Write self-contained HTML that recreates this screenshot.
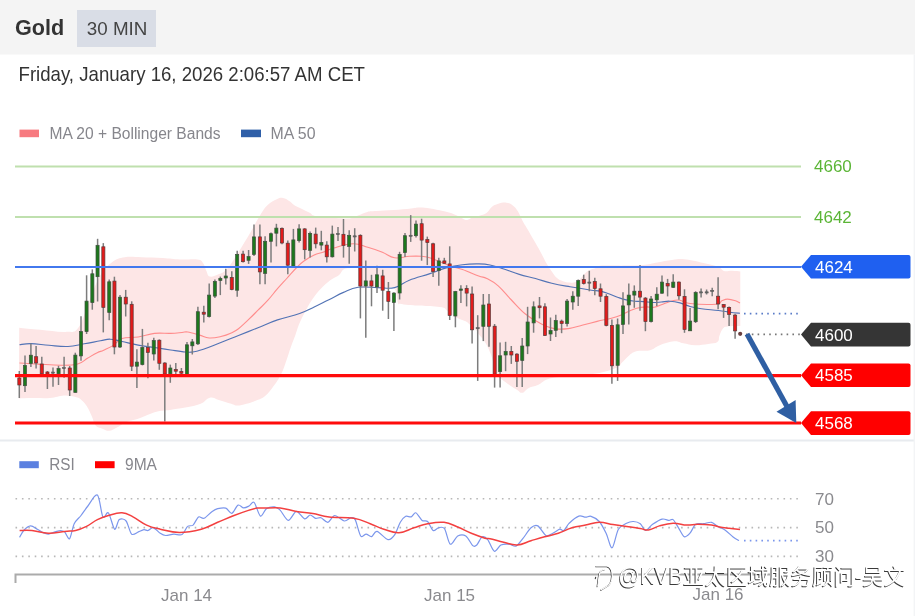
<!DOCTYPE html>
<html><head><meta charset="utf-8"><title>Gold 30 MIN</title>
<style>
html,body{margin:0;padding:0;background:#fff;}
body{width:915px;height:616px;overflow:hidden;position:relative;font-family:"Liberation Sans",Arial,sans-serif;}
svg{position:absolute;left:0;top:0;}
.w{stroke:#7c7c7c;stroke-width:1.5;}
.r{fill:#e31b1b;stroke:#5a3a3a;stroke-width:0.7;}
.g{fill:#1d781d;stroke:#3f4f3f;stroke-width:0.7;}
.d{fill:#666;stroke:#555;stroke-width:0.5;}
.lbl{font-family:"Liberation Sans",Arial,sans-serif;font-size:17px;}
.ax{font-family:"Liberation Sans",Arial,sans-serif;font-size:17px;fill:#8a8a8e;}
.lg{font-family:"Liberation Sans",Arial,sans-serif;font-size:16px;fill:#86868c;}
</style></head><body>
<svg width="915" height="616" viewBox="0 0 915 616">
<rect x="0" y="0" width="915" height="54.5" fill="#f4f4f4"/>
<rect x="77" y="10" width="79" height="37" fill="#d9dde6"/>
<text x="15" y="35.3" font-family="Liberation Sans, Arial, sans-serif" font-weight="bold" font-size="21.6" fill="#333">Gold</text>
<text x="86.8" y="34.7" font-family="Liberation Sans, Arial, sans-serif" font-size="18.8" fill="#444">30 MIN</text>
<text x="0" y="0" transform="translate(18.5,81.4) scale(1,1.09)" font-family="Liberation Sans, Arial, sans-serif" font-size="18" fill="#333" textLength="346.5" lengthAdjust="spacingAndGlyphs">Friday, January 16, 2026 2:06:57 AM CET</text>
<rect x="19.5" y="129.6" width="19.5" height="7.6" fill="#f77a80"/>
<text x="49.5" y="138.6" class="lg" textLength="171" lengthAdjust="spacingAndGlyphs">MA 20 + Bollinger Bands</text>
<rect x="241" y="129.6" width="20" height="7.6" fill="#2f5fa8"/>
<text x="270.5" y="138.6" class="lg" textLength="45" lengthAdjust="spacingAndGlyphs">MA 50</text>
<!-- band -->
<path d="M19.2,327.7 C23.4,328.1 31.0,329.0 40.3,329.8 C49.6,330.6 58.0,332.3 65.6,331.9 C73.2,331.5 73.7,333.6 78.3,327.7 C82.9,321.8 84.6,312.5 88.8,302.4 C93.0,292.3 94.8,285.0 99.4,277.0 C104.0,269.0 106.9,266.3 112.0,262.3 C117.1,258.3 118.8,258.2 124.7,257.2 C130.6,256.2 134.0,257.0 141.6,257.2 C149.2,257.4 155.0,257.5 162.7,258.0 C170.4,258.5 173.0,259.2 180.0,259.5 C187.0,259.8 192.9,258.8 197.5,259.5 C202.1,260.2 201.2,260.7 203.0,263.0 C204.8,265.3 205.0,268.3 206.4,271.0 C207.8,273.7 207.3,276.0 209.8,276.6 C212.3,277.2 215.6,275.6 219.0,274.1 C222.4,272.6 223.3,272.9 226.8,269.2 C230.3,265.5 233.4,260.3 236.5,255.6 C239.6,250.9 239.3,250.9 242.4,245.8 C245.5,240.7 248.1,236.4 251.8,230.0 C255.5,223.6 257.7,219.0 260.9,214.0 C264.1,209.0 264.5,207.9 267.7,205.0 C270.9,202.1 273.7,200.7 276.8,199.3 C279.9,197.9 280.4,197.6 283.0,198.0 C285.6,198.4 287.8,200.1 290.0,201.5 C292.2,202.9 291.8,203.5 294.0,204.9 C296.2,206.3 297.9,206.8 301.0,208.4 C304.1,210.0 306.9,211.2 309.7,212.7 C312.5,214.2 310.9,214.9 315.0,215.9 C319.1,216.9 324.0,217.0 330.0,217.5 C336.0,218.0 340.6,218.4 345.0,218.5 C349.4,218.6 349.3,218.6 352.0,218.0 C354.7,217.4 355.6,216.5 358.7,215.3 C361.8,214.1 363.9,212.8 367.4,211.9 C370.9,211.0 371.0,211.4 376.2,211.0 C381.4,210.6 386.6,210.6 393.6,210.1 C400.6,209.6 405.8,208.9 411.1,208.4 C416.4,207.9 416.1,207.5 419.9,207.5 C423.7,207.5 425.7,207.7 430.3,208.4 C434.9,209.1 438.2,209.9 443.0,211.1 C447.8,212.3 450.5,212.9 454.4,214.4 C458.3,215.9 459.9,217.3 462.5,218.4 C465.1,219.5 465.4,220.2 467.3,220.0 C469.2,219.8 469.9,218.4 472.2,217.6 C474.5,216.8 475.8,217.0 478.7,216.0 C481.6,215.0 484.2,214.5 486.8,212.7 C489.4,210.9 489.4,208.8 491.7,207.0 C494.0,205.2 495.3,204.7 498.2,203.8 C501.1,202.9 503.4,202.4 506.3,202.7 C509.2,203.0 510.5,203.7 512.8,205.4 C515.1,207.1 515.8,208.0 517.7,211.1 C519.6,214.2 520.6,217.2 522.5,220.8 C524.4,224.4 525.1,225.1 527.4,229.0 C529.7,232.9 531.3,235.8 533.9,240.3 C536.5,244.8 537.9,247.1 540.4,251.7 C542.9,256.3 544.3,259.6 546.6,263.5 C548.9,267.4 549.7,268.5 551.8,271.4 C553.9,274.3 554.8,276.0 557.0,278.0 C559.2,280.0 560.5,280.3 563.0,281.2 C565.5,282.1 567.1,282.3 569.5,282.5 C571.9,282.7 572.9,283.0 575.0,282.3 C577.1,281.6 577.8,281.0 580.0,279.0 C582.2,277.0 583.7,274.4 585.9,272.5 C588.1,270.6 589.0,270.4 591.0,269.5 C593.0,268.6 593.9,268.8 595.7,268.1 C597.5,267.4 596.8,266.3 600.0,265.8 C603.2,265.3 606.6,265.6 611.9,265.6 C617.2,265.6 620.2,265.7 626.4,265.6 C632.6,265.5 636.8,265.6 643.0,265.0 C649.2,264.4 651.7,263.4 657.5,262.4 C663.3,261.4 666.6,260.6 672.0,260.0 C677.4,259.4 678.7,258.8 684.5,259.3 C690.3,259.8 694.4,260.9 701.0,262.4 C707.6,263.9 713.1,264.9 717.7,266.6 C722.3,268.3 721.0,270.2 723.9,271.0 C726.8,271.8 728.9,270.6 732.2,270.7 C735.5,270.8 738.7,271.3 740.3,271.5 L740.3,326.0 C737.7,326.1 731.0,325.9 727.5,326.4 C724.0,326.9 724.6,326.8 723.0,328.6 C721.4,330.4 720.6,332.8 719.5,335.5 C718.4,338.2 719.7,340.3 717.4,342.0 C715.1,343.7 712.7,343.3 708.2,343.9 C703.7,344.5 700.1,345.3 695.1,345.2 C690.1,345.1 687.5,344.1 683.3,343.3 C679.1,342.5 678.8,340.9 674.1,341.3 C669.4,341.7 664.5,343.4 659.7,345.2 C654.9,347.0 654.4,349.1 650.0,350.3 C645.6,351.5 641.6,350.1 637.5,351.0 C633.4,351.9 632.8,352.5 629.7,354.9 C626.6,357.3 624.2,360.3 621.8,362.8 C619.4,365.3 621.3,365.4 617.6,367.2 C613.9,369.0 609.3,370.5 603.4,372.0 C597.5,373.5 594.8,373.6 588.0,374.5 C581.2,375.4 577.0,375.8 569.3,376.6 C561.6,377.4 556.0,376.8 549.7,378.5 C543.4,380.2 542.0,383.2 537.9,385.1 C533.8,387.0 532.1,386.4 529.0,387.9 C525.9,389.4 524.6,392.4 522.2,392.8 C519.8,393.2 519.8,391.5 517.2,389.9 C514.6,388.3 512.5,387.2 509.4,385.0 C506.3,382.8 504.3,381.4 501.5,379.0 C498.7,376.6 497.3,376.6 495.6,373.1 C493.9,369.6 494.3,365.7 493.1,361.4 C491.9,357.1 491.4,355.6 489.8,351.7 C488.2,347.8 487.2,345.6 484.9,342.0 C482.6,338.4 480.0,336.0 478.4,333.8 C476.8,331.6 478.6,332.8 476.9,331.0 C475.2,329.2 472.3,326.7 470.0,324.7 C467.7,322.7 468.2,322.6 465.6,321.2 C463.0,319.8 460.5,319.8 456.8,317.7 C453.1,315.6 449.8,312.7 447.2,310.7 C444.6,308.7 446.1,308.6 443.7,307.7 C441.3,306.8 438.5,306.8 435.0,306.4 C431.5,306.0 429.7,306.1 426.2,305.9 C422.7,305.7 421.0,305.7 417.5,305.5 C414.0,305.3 412.2,305.4 408.7,305.0 C405.2,304.6 402.1,304.1 400.0,303.7 C397.9,303.3 399.1,306.0 398.0,303.0 C396.9,300.0 397.1,291.5 394.5,288.5 C391.9,285.5 388.9,288.1 385.0,288.0 C381.1,287.9 378.8,288.1 375.0,288.0 C371.2,287.9 368.9,287.8 366.0,287.5 C363.1,287.2 362.0,290.3 360.4,286.5 C358.8,282.7 360.3,271.9 358.1,268.3 C355.9,264.7 352.2,268.1 349.3,268.3 C346.4,268.5 345.5,268.2 343.5,269.5 C341.5,270.8 341.4,273.0 339.1,274.9 C336.8,276.8 335.0,276.9 331.8,279.2 C328.6,281.5 326.5,283.0 323.0,286.5 C319.5,290.0 317.4,292.4 314.2,296.8 C311.0,301.2 309.8,303.2 306.9,308.5 C304.0,313.8 301.9,317.8 299.6,323.1 C297.3,328.4 297.2,330.2 295.4,335.0 C293.6,339.8 292.6,342.0 290.8,347.2 C289.0,352.4 288.0,355.8 286.2,361.0 C284.4,366.2 284.0,368.3 281.6,373.2 C279.2,378.1 277.4,380.9 274.0,385.5 C270.6,390.1 268.5,393.2 264.8,396.2 C261.1,399.2 259.3,399.2 255.6,400.7 C251.9,402.2 250.2,402.8 246.5,403.8 C242.8,404.8 240.4,405.6 237.3,405.6 C234.2,405.6 234.9,404.9 231.2,403.8 C227.5,402.7 223.2,401.2 218.9,400.0 C214.6,398.8 213.5,396.9 209.8,397.7 C206.1,398.5 205.5,401.8 200.6,403.8 C195.7,405.8 191.4,406.4 185.3,407.6 C179.2,408.8 175.4,409.2 170.0,409.9 C164.6,410.6 162.8,410.2 158.4,411.2 C154.0,412.2 152.1,413.1 147.9,414.7 C143.7,416.3 141.6,417.7 137.4,419.1 C133.2,420.5 131.1,420.0 126.9,421.7 C122.7,423.4 119.9,426.0 116.4,427.8 C112.9,429.6 112.2,430.6 109.4,430.8 C106.6,431.0 105.2,429.8 102.4,428.7 C99.6,427.6 97.5,427.6 95.4,425.2 C93.3,422.8 93.6,420.3 91.9,416.5 C90.2,412.7 88.8,409.3 86.7,406.0 C84.6,402.7 83.5,401.7 81.4,399.9 C79.3,398.1 79.7,398.1 76.2,397.2 C72.7,396.3 69.2,395.3 64.0,395.5 C58.8,395.7 56.3,397.6 50.0,398.1 C43.7,398.6 38.7,398.0 32.5,398.1 C26.3,398.2 21.6,398.4 18.9,398.5 Z" fill="#fde6e6"/>
<!-- level lines -->
<line x1="15" y1="166.6" x2="801" y2="166.6" stroke="#bfe0ae" stroke-width="2"/>
<line x1="15" y1="216.9" x2="801" y2="216.9" stroke="#bfe0ae" stroke-width="2"/>
<text x="814" y="171.6" class="lbl" fill="#5bb536">4660</text>
<text x="814" y="222.6" class="lbl" fill="#5bb536">4642</text>
<!-- MAs -->
<path d="M19.5,363.0 C23.1,363.2 29.5,363.7 37.7,364.1 C45.9,364.5 52.5,365.2 60.5,365.2 C68.5,365.2 72.3,365.4 77.7,364.0 C83.1,362.6 83.5,360.6 87.4,358.3 C91.3,356.0 93.9,354.3 97.2,352.7 C100.5,351.1 100.5,351.7 103.7,350.2 C106.9,348.7 109.7,347.7 113.4,345.4 C117.1,343.1 117.0,340.3 122.0,338.6 C127.0,336.9 131.7,338.0 138.2,337.0 C144.7,336.0 147.9,334.1 154.4,333.4 C160.9,332.7 165.1,333.6 170.6,333.4 C176.1,333.2 178.6,332.8 182.0,332.5 C185.4,332.2 184.3,331.5 187.8,332.0 C191.3,332.5 195.2,333.9 199.5,335.1 C203.8,336.3 204.9,337.7 209.2,338.0 C213.5,338.3 216.6,337.5 220.9,336.5 C225.2,335.5 227.2,334.8 230.7,333.2 C234.2,331.6 235.0,331.4 238.5,328.7 C242.0,326.0 244.3,323.6 248.2,319.9 C252.1,316.2 254.1,314.1 258.0,310.2 C261.9,306.3 263.8,304.7 267.7,300.4 C271.6,296.1 273.6,293.2 277.5,288.7 C281.4,284.2 283.4,282.2 287.2,278.0 C291.0,273.8 293.3,270.9 296.7,267.5 C300.1,264.1 300.5,263.5 304.0,261.0 C307.5,258.5 310.4,256.9 314.2,255.1 C318.0,253.3 319.1,253.6 323.0,252.2 C326.9,250.8 327.7,249.7 333.7,248.0 C339.7,246.3 346.4,243.8 353.2,243.7 C360.0,243.6 362.0,245.6 367.8,247.3 C373.6,249.0 377.0,250.1 382.4,252.2 C387.8,254.3 389.2,257.0 394.6,257.8 C400.0,258.6 403.9,256.6 409.3,256.3 C414.7,256.0 417.1,255.9 421.5,256.3 C425.9,256.7 425.3,256.3 431.2,258.3 C437.1,260.3 444.8,264.1 451.1,266.3 C457.4,268.5 457.0,267.6 462.5,269.5 C468.0,271.4 473.8,274.2 478.7,276.0 C483.6,277.8 482.9,276.5 486.8,278.5 C490.7,280.5 493.3,281.5 498.2,285.8 C503.1,290.1 505.9,294.3 511.4,300.0 C516.9,305.7 520.0,309.7 525.7,314.3 C531.4,318.9 534.3,320.3 540.0,323.2 C545.7,326.1 548.6,327.5 554.3,328.6 C560.0,329.7 562.9,329.3 568.6,328.6 C574.3,327.9 577.2,326.4 582.9,325.0 C588.6,323.6 591.4,322.8 597.1,321.4 C602.8,320.0 606.4,319.5 611.4,318.2 C616.4,316.9 618.4,316.1 621.9,314.7 C625.4,313.3 625.8,312.5 628.8,311.2 C631.8,309.9 633.2,309.1 636.7,308.2 C640.2,307.3 642.8,307.1 646.3,306.9 C649.8,306.7 650.9,307.8 654.2,307.3 C657.5,306.8 659.2,305.5 662.9,304.2 C666.6,302.9 669.2,301.5 672.6,300.7 C676.0,299.9 676.5,299.6 680.0,300.2 C683.5,300.8 682.8,302.7 690.0,303.5 C697.2,304.3 709.6,304.7 716.0,304.2 C722.4,303.7 719.5,301.8 721.8,300.8 C724.1,299.8 724.8,299.1 727.5,299.1 C730.2,299.1 733.0,300.0 735.5,300.8 C738.0,301.6 739.1,302.6 740.0,303.0" fill="none" stroke="#ff8c8c" stroke-width="1.1"/>
<path d="M19.5,344.8 C21.8,344.6 25.0,343.5 30.9,343.6 C36.8,343.7 41.6,344.7 49.0,345.3 C56.4,345.9 61.0,346.8 68.0,346.5 C75.0,346.2 77.7,344.9 84.2,343.8 C90.7,342.7 95.2,341.7 100.4,340.8 C105.6,339.9 105.8,339.1 110.1,339.2 C114.4,339.3 116.4,340.3 122.0,341.5 C127.6,342.7 131.7,343.9 138.2,345.1 C144.7,346.3 147.9,346.5 154.4,347.5 C160.9,348.5 165.1,349.2 170.6,350.0 C176.1,350.8 177.8,351.2 182.0,351.6 C186.2,352.0 187.4,352.6 191.7,352.1 C196.0,351.6 197.9,351.0 203.4,349.2 C208.9,347.4 212.0,346.0 219.0,343.3 C226.0,340.6 230.7,338.6 238.5,335.5 C246.3,332.4 250.2,330.8 258.0,327.7 C265.8,324.6 269.2,322.7 277.5,319.9 C285.8,317.1 292.3,316.1 299.6,313.5 C306.9,310.9 308.3,309.8 314.2,307.0 C320.1,304.2 323.0,302.6 328.9,299.7 C334.8,296.8 337.7,294.9 343.5,292.4 C349.3,289.9 351.3,288.3 358.1,287.3 C364.9,286.3 370.3,287.5 377.6,287.6 C384.9,287.7 388.3,289.1 394.6,287.6 C400.9,286.1 402.2,283.0 409.3,280.2 C416.4,277.4 422.6,276.1 430.0,273.6 C437.4,271.1 439.7,269.7 446.2,267.9 C452.7,266.1 456.0,265.5 462.5,264.7 C469.0,263.9 473.2,263.8 478.7,263.9 C484.2,264.0 485.1,264.0 490.0,265.0 C494.9,266.0 497.1,266.8 503.0,268.7 C508.9,270.6 512.8,272.4 519.3,274.4 C525.8,276.4 529.0,276.7 535.5,278.5 C542.0,280.3 544.9,281.6 551.8,283.3 C558.7,285.0 562.4,285.5 570.0,286.8 C577.6,288.1 584.0,289.1 590.0,290.0 C596.0,290.9 596.3,290.4 600.0,291.1 C603.7,291.8 605.2,292.5 608.7,293.7 C612.2,294.9 614.0,296.0 617.5,297.2 C621.0,298.4 622.7,299.1 626.2,299.9 C629.7,300.7 631.5,300.9 635.0,301.2 C638.5,301.5 640.2,301.3 643.7,301.6 C647.2,301.9 648.9,302.4 652.4,302.5 C655.9,302.6 657.7,302.3 661.2,302.0 C664.7,301.7 666.1,301.0 669.9,301.2 C673.7,301.4 676.0,301.8 680.0,302.9 C684.0,304.0 685.7,305.3 690.0,306.5 C694.3,307.7 695.7,308.0 701.4,308.8 C707.1,309.6 712.7,309.8 718.4,310.5 C724.1,311.2 725.5,311.6 729.8,312.2 C734.1,312.8 738.0,313.1 740.0,313.3" fill="none" stroke="#5273b5" stroke-width="1.15"/>
<!-- candles -->
<line x1="19.3" y1="371.0" x2="19.3" y2="398.0" class="w"/>
<rect x="17.8" y="378.0" width="3.1" height="7.0" class="r"/>
<line x1="25.0" y1="355.6" x2="25.0" y2="392.0" class="w"/>
<rect x="23.4" y="365.5" width="3.1" height="20.2" class="g"/>
<line x1="30.9" y1="343.6" x2="30.9" y2="367.0" class="w"/>
<rect x="29.3" y="355.2" width="3.1" height="8.3" class="g"/>
<line x1="36.1" y1="346.0" x2="36.1" y2="368.6" class="w"/>
<rect x="34.6" y="356.7" width="3.1" height="6.3" class="r"/>
<line x1="41.8" y1="356.7" x2="41.8" y2="374.0" class="w"/>
<rect x="40.2" y="364.0" width="3.1" height="9.8" class="r"/>
<line x1="47.4" y1="371.0" x2="47.4" y2="389.0" class="w"/>
<rect x="45.9" y="372.0" width="3.1" height="2.0" class="r"/>
<line x1="53.0" y1="367.5" x2="53.0" y2="386.8" class="w"/>
<rect x="51.5" y="372.0" width="3.1" height="1.2" class="d"/>
<line x1="58.5" y1="365.8" x2="58.5" y2="385.0" class="w"/>
<rect x="57.0" y="368.6" width="3.1" height="5.2" class="g"/>
<line x1="64.1" y1="356.7" x2="64.1" y2="377.7" class="w"/>
<rect x="62.5" y="367.5" width="3.1" height="1.2" class="d"/>
<line x1="69.7" y1="366.0" x2="69.7" y2="396.0" class="w"/>
<rect x="68.2" y="368.0" width="3.1" height="22.0" class="r"/>
<line x1="75.3" y1="352.7" x2="75.3" y2="392.4" class="w"/>
<rect x="73.8" y="355.1" width="3.1" height="37.3" class="g"/>
<line x1="81.0" y1="316.2" x2="81.0" y2="360.8" class="w"/>
<rect x="79.5" y="331.6" width="3.1" height="24.3" class="g"/>
<line x1="86.6" y1="275.3" x2="86.6" y2="334.0" class="w"/>
<rect x="85.0" y="301.1" width="3.1" height="30.5" class="g"/>
<line x1="92.3" y1="269.4" x2="92.3" y2="309.7" class="w"/>
<rect x="90.8" y="273.8" width="3.1" height="28.8" class="g"/>
<line x1="97.6" y1="238.8" x2="97.6" y2="301.5" class="w"/>
<rect x="96.0" y="245.3" width="3.1" height="31.4" class="g"/>
<line x1="103.3" y1="243.1" x2="103.3" y2="332.4" class="w"/>
<rect x="101.8" y="246.8" width="3.1" height="60.6" class="r"/>
<line x1="109.2" y1="279.6" x2="109.2" y2="320.3" class="w"/>
<rect x="107.7" y="281.8" width="3.1" height="30.7" class="g"/>
<line x1="114.4" y1="276.7" x2="114.4" y2="354.3" class="w"/>
<rect x="112.9" y="281.1" width="3.1" height="65.9" class="r"/>
<line x1="120.0" y1="295.0" x2="120.0" y2="348.0" class="w"/>
<rect x="118.5" y="297.2" width="3.1" height="49.8" class="g"/>
<line x1="125.7" y1="289.9" x2="125.7" y2="316.5" class="w"/>
<rect x="124.2" y="297.2" width="3.1" height="6.8" class="r"/>
<line x1="131.7" y1="301.3" x2="131.7" y2="371.0" class="w"/>
<rect x="130.1" y="304.3" width="3.1" height="61.9" class="r"/>
<line x1="136.9" y1="349.2" x2="136.9" y2="388.0" class="w"/>
<rect x="135.3" y="362.1" width="3.1" height="4.1" class="g"/>
<line x1="142.4" y1="328.9" x2="142.4" y2="365.4" class="w"/>
<rect x="140.8" y="347.5" width="3.1" height="17.1" class="g"/>
<line x1="147.9" y1="342.7" x2="147.9" y2="378.3" class="w"/>
<rect x="146.3" y="347.5" width="3.1" height="4.9" class="r"/>
<line x1="153.8" y1="337.8" x2="153.8" y2="360.5" class="w"/>
<rect x="152.2" y="340.6" width="3.1" height="13.4" class="g"/>
<line x1="159.3" y1="339.4" x2="159.3" y2="369.8" class="w"/>
<rect x="157.8" y="340.2" width="3.1" height="23.1" class="r"/>
<line x1="164.8" y1="362.3" x2="164.8" y2="421.4" class="w"/>
<rect x="163.2" y="363.0" width="3.1" height="11.0" class="r"/>
<line x1="170.3" y1="364.6" x2="170.3" y2="382.8" class="w"/>
<rect x="168.8" y="368.0" width="3.1" height="5.8" class="g"/>
<line x1="175.8" y1="363.0" x2="175.8" y2="374.2" class="w"/>
<rect x="174.2" y="369.5" width="3.1" height="1.7" class="r"/>
<line x1="181.4" y1="368.0" x2="181.4" y2="377.0" class="w"/>
<rect x="179.8" y="371.4" width="3.1" height="1.8" class="r"/>
<line x1="187.0" y1="341.9" x2="187.0" y2="376.0" class="w"/>
<rect x="185.4" y="344.8" width="3.1" height="30.2" class="g"/>
<line x1="192.3" y1="339.0" x2="192.3" y2="354.5" class="w"/>
<rect x="190.8" y="341.9" width="3.1" height="3.9" class="g"/>
<line x1="197.9" y1="306.8" x2="197.9" y2="345.0" class="w"/>
<rect x="196.3" y="311.7" width="3.1" height="32.1" class="g"/>
<line x1="203.8" y1="305.8" x2="203.8" y2="322.4" class="w"/>
<rect x="202.2" y="312.2" width="3.1" height="2.0" class="r"/>
<line x1="209.2" y1="283.4" x2="209.2" y2="317.5" class="w"/>
<rect x="207.6" y="295.1" width="3.1" height="21.4" class="g"/>
<line x1="214.9" y1="279.5" x2="214.9" y2="298.0" class="w"/>
<rect x="213.3" y="281.4" width="3.1" height="14.7" class="g"/>
<line x1="220.3" y1="276.6" x2="220.3" y2="295.1" class="w"/>
<rect x="218.8" y="278.5" width="3.1" height="2.0" class="g"/>
<line x1="225.8" y1="268.8" x2="225.8" y2="284.4" class="w"/>
<rect x="224.2" y="276.0" width="3.1" height="2.0" class="g"/>
<line x1="231.8" y1="271.2" x2="231.8" y2="290.2" class="w"/>
<rect x="230.2" y="277.5" width="3.1" height="12.0" class="r"/>
<line x1="237.2" y1="250.8" x2="237.2" y2="296.8" class="w"/>
<rect x="235.6" y="254.4" width="3.1" height="35.8" class="g"/>
<line x1="243.1" y1="250.8" x2="243.1" y2="262.4" class="w"/>
<rect x="241.5" y="254.1" width="3.1" height="7.6" class="r"/>
<line x1="248.6" y1="250.0" x2="248.6" y2="263.9" class="w"/>
<rect x="247.0" y="256.6" width="3.1" height="3.7" class="g"/>
<line x1="254.0" y1="224.5" x2="254.0" y2="255.9" class="w"/>
<rect x="252.4" y="236.9" width="3.1" height="17.5" class="g"/>
<line x1="259.9" y1="224.5" x2="259.9" y2="284.3" class="w"/>
<rect x="258.3" y="236.9" width="3.1" height="35.0" class="r"/>
<line x1="265.1" y1="236.2" x2="265.1" y2="284.3" class="w"/>
<rect x="263.6" y="241.3" width="3.1" height="32.1" class="g"/>
<line x1="271.0" y1="232.5" x2="271.0" y2="262.4" class="w"/>
<rect x="269.4" y="233.7" width="3.1" height="7.6" class="g"/>
<line x1="276.4" y1="223.8" x2="276.4" y2="246.4" class="w"/>
<rect x="274.8" y="228.1" width="3.1" height="5.1" class="g"/>
<line x1="282.0" y1="227.4" x2="282.0" y2="244.2" class="w"/>
<rect x="280.4" y="228.3" width="3.1" height="14.7" class="r"/>
<line x1="287.8" y1="240.6" x2="287.8" y2="274.3" class="w"/>
<rect x="286.2" y="243.2" width="3.1" height="22.0" class="r"/>
<line x1="293.4" y1="228.9" x2="293.4" y2="266.5" class="w"/>
<rect x="291.8" y="239.9" width="3.1" height="26.6" class="g"/>
<line x1="299.1" y1="224.3" x2="299.1" y2="242.5" class="w"/>
<rect x="297.6" y="228.9" width="3.1" height="11.7" class="g"/>
<line x1="304.7" y1="228.2" x2="304.7" y2="259.4" class="w"/>
<rect x="303.1" y="228.9" width="3.1" height="20.8" class="r"/>
<line x1="310.1" y1="231.5" x2="310.1" y2="257.5" class="w"/>
<rect x="308.6" y="233.4" width="3.1" height="16.9" class="g"/>
<line x1="315.7" y1="227.6" x2="315.7" y2="248.4" class="w"/>
<rect x="314.1" y="234.1" width="3.1" height="9.7" class="r"/>
<line x1="321.3" y1="230.8" x2="321.3" y2="250.3" class="w"/>
<rect x="319.8" y="242.5" width="3.1" height="2.6" class="g"/>
<line x1="326.8" y1="241.2" x2="326.8" y2="262.6" class="w"/>
<rect x="325.2" y="245.1" width="3.1" height="11.7" class="r"/>
<line x1="332.3" y1="225.6" x2="332.3" y2="257.5" class="w"/>
<rect x="330.8" y="234.1" width="3.1" height="22.7" class="g"/>
<line x1="338.0" y1="227.0" x2="338.0" y2="241.0" class="w"/>
<rect x="336.4" y="233.5" width="3.1" height="1.2" class="d"/>
<line x1="343.5" y1="219.0" x2="343.5" y2="257.6" class="w"/>
<rect x="341.9" y="234.3" width="3.1" height="11.1" class="r"/>
<line x1="349.2" y1="230.2" x2="349.2" y2="263.7" class="w"/>
<rect x="347.6" y="235.3" width="3.1" height="11.1" class="g"/>
<line x1="354.7" y1="228.2" x2="354.7" y2="251.5" class="w"/>
<rect x="353.1" y="235.8" width="3.1" height="1.2" class="d"/>
<line x1="360.4" y1="234.3" x2="360.4" y2="318.4" class="w"/>
<rect x="358.8" y="235.3" width="3.1" height="50.7" class="r"/>
<line x1="365.8" y1="260.6" x2="365.8" y2="337.7" class="w"/>
<rect x="364.2" y="280.9" width="3.1" height="5.1" class="g"/>
<line x1="371.5" y1="274.8" x2="371.5" y2="306.3" class="w"/>
<rect x="369.9" y="280.9" width="3.1" height="5.1" class="r"/>
<line x1="377.0" y1="265.7" x2="377.0" y2="293.1" class="w"/>
<rect x="375.4" y="274.8" width="3.1" height="12.2" class="g"/>
<line x1="382.7" y1="269.8" x2="382.7" y2="310.7" class="w"/>
<rect x="381.1" y="275.9" width="3.1" height="14.3" class="r"/>
<line x1="388.4" y1="282.0" x2="388.4" y2="319.0" class="w"/>
<rect x="386.8" y="291.5" width="3.1" height="9.9" class="r"/>
<line x1="393.9" y1="292.2" x2="393.9" y2="331.1" class="w"/>
<rect x="392.3" y="293.1" width="3.1" height="9.3" class="g"/>
<line x1="399.6" y1="251.8" x2="399.6" y2="299.5" class="w"/>
<rect x="398.1" y="254.4" width="3.1" height="38.6" class="g"/>
<line x1="405.0" y1="233.0" x2="405.0" y2="257.1" class="w"/>
<rect x="403.4" y="235.7" width="3.1" height="16.9" class="g"/>
<line x1="410.7" y1="215.1" x2="410.7" y2="241.9" class="w"/>
<rect x="409.1" y="235.2" width="3.1" height="1.2" class="d"/>
<line x1="416.0" y1="220.5" x2="416.0" y2="237.5" class="w"/>
<rect x="414.4" y="224.1" width="3.1" height="11.6" class="g"/>
<line x1="421.6" y1="218.7" x2="421.6" y2="260.7" class="w"/>
<rect x="420.1" y="223.7" width="3.1" height="16.4" class="r"/>
<line x1="427.3" y1="236.6" x2="427.3" y2="265.1" class="w"/>
<rect x="425.8" y="239.6" width="3.1" height="3.0" class="r"/>
<line x1="433.1" y1="242.8" x2="433.1" y2="277.0" class="w"/>
<rect x="431.6" y="243.8" width="3.1" height="27.8" class="r"/>
<line x1="438.8" y1="257.8" x2="438.8" y2="285.8" class="w"/>
<rect x="437.2" y="260.9" width="3.1" height="9.7" class="g"/>
<line x1="444.3" y1="257.8" x2="444.3" y2="263.9" class="w"/>
<rect x="442.8" y="260.9" width="3.1" height="2.4" class="r"/>
<line x1="449.7" y1="246.3" x2="449.7" y2="320.0" class="w"/>
<rect x="448.1" y="263.9" width="3.1" height="51.6" class="r"/>
<line x1="455.4" y1="290.9" x2="455.4" y2="327.3" class="w"/>
<rect x="453.8" y="291.6" width="3.1" height="24.4" class="g"/>
<line x1="460.9" y1="285.2" x2="460.9" y2="303.0" class="w"/>
<rect x="459.3" y="289.0" width="3.1" height="1.3" class="g"/>
<line x1="466.6" y1="285.2" x2="466.6" y2="306.4" class="w"/>
<rect x="465.1" y="288.4" width="3.1" height="4.7" class="r"/>
<line x1="472.1" y1="286.4" x2="472.1" y2="343.6" class="w"/>
<rect x="470.6" y="294.0" width="3.1" height="35.8" class="r"/>
<line x1="477.7" y1="315.2" x2="477.7" y2="380.9" class="w"/>
<rect x="476.1" y="327.6" width="3.1" height="1.2" class="d"/>
<line x1="483.3" y1="294.0" x2="483.3" y2="341.1" class="w"/>
<rect x="481.8" y="305.0" width="3.1" height="21.3" class="g"/>
<line x1="489.0" y1="294.0" x2="489.0" y2="346.8" class="w"/>
<rect x="487.4" y="304.0" width="3.1" height="22.3" class="r"/>
<line x1="494.6" y1="324.0" x2="494.6" y2="387.6" class="w"/>
<rect x="493.1" y="326.2" width="3.1" height="48.0" class="r"/>
<line x1="500.1" y1="342.6" x2="500.1" y2="387.4" class="w"/>
<rect x="498.6" y="355.8" width="3.1" height="15.8" class="g"/>
<line x1="505.6" y1="341.8" x2="505.6" y2="371.2" class="w"/>
<rect x="504.1" y="351.5" width="3.1" height="3.5" class="g"/>
<line x1="511.3" y1="346.0" x2="511.3" y2="363.9" class="w"/>
<rect x="509.8" y="351.4" width="3.1" height="3.6" class="r"/>
<line x1="516.9" y1="353.2" x2="516.9" y2="387.0" class="w"/>
<rect x="515.4" y="354.1" width="3.1" height="7.2" class="r"/>
<line x1="522.2" y1="338.0" x2="522.2" y2="387.0" class="w"/>
<rect x="520.7" y="346.0" width="3.1" height="14.4" class="g"/>
<line x1="527.6" y1="306.8" x2="527.6" y2="354.1" class="w"/>
<rect x="526.1" y="322.0" width="3.1" height="24.0" class="g"/>
<line x1="533.6" y1="301.4" x2="533.6" y2="332.7" class="w"/>
<rect x="532.1" y="306.8" width="3.1" height="16.1" class="g"/>
<line x1="539.5" y1="297.0" x2="539.5" y2="318.4" class="w"/>
<rect x="538.0" y="305.9" width="3.1" height="1.8" class="r"/>
<line x1="544.9" y1="303.2" x2="544.9" y2="336.0" class="w"/>
<rect x="543.4" y="306.8" width="3.1" height="28.6" class="r"/>
<line x1="550.5" y1="317.5" x2="550.5" y2="341.0" class="w"/>
<rect x="549.0" y="330.6" width="3.1" height="3.4" class="g"/>
<line x1="555.8" y1="314.7" x2="555.8" y2="337.1" class="w"/>
<rect x="554.2" y="320.6" width="3.1" height="9.7" class="g"/>
<line x1="561.6" y1="319.6" x2="561.6" y2="333.2" class="w"/>
<rect x="560.1" y="321.1" width="3.1" height="2.4" class="r"/>
<line x1="567.1" y1="299.1" x2="567.1" y2="326.4" class="w"/>
<rect x="565.6" y="301.1" width="3.1" height="22.4" class="g"/>
<line x1="572.8" y1="291.3" x2="572.8" y2="309.8" class="w"/>
<rect x="571.2" y="296.2" width="3.1" height="5.8" class="g"/>
<line x1="578.2" y1="279.6" x2="578.2" y2="305.9" class="w"/>
<rect x="576.7" y="280.6" width="3.1" height="15.6" class="g"/>
<line x1="583.7" y1="274.7" x2="583.7" y2="284.5" class="w"/>
<rect x="582.2" y="279.6" width="3.1" height="3.9" class="r"/>
<line x1="589.3" y1="270.8" x2="589.3" y2="291.3" class="w"/>
<rect x="587.8" y="282.0" width="3.1" height="1.2" class="d"/>
<line x1="594.8" y1="277.7" x2="594.8" y2="295.2" class="w"/>
<rect x="593.2" y="281.6" width="3.1" height="6.8" class="r"/>
<line x1="600.5" y1="283.5" x2="600.5" y2="302.0" class="w"/>
<rect x="599.0" y="288.8" width="3.1" height="7.4" class="r"/>
<line x1="606.3" y1="294.2" x2="606.3" y2="326.3" class="w"/>
<rect x="604.8" y="296.5" width="3.1" height="28.9" class="r"/>
<line x1="611.9" y1="319.5" x2="611.9" y2="383.8" class="w"/>
<rect x="610.4" y="325.4" width="3.1" height="40.4" class="r"/>
<line x1="617.6" y1="318.5" x2="617.6" y2="380.9" class="w"/>
<rect x="616.1" y="324.8" width="3.1" height="40.5" class="g"/>
<line x1="623.0" y1="292.2" x2="623.0" y2="334.1" class="w"/>
<rect x="621.5" y="305.9" width="3.1" height="18.5" class="g"/>
<line x1="628.8" y1="283.4" x2="628.8" y2="324.4" class="w"/>
<rect x="627.2" y="295.1" width="3.1" height="9.8" class="g"/>
<line x1="634.3" y1="285.4" x2="634.3" y2="307.8" class="w"/>
<rect x="632.8" y="291.2" width="3.1" height="3.9" class="g"/>
<line x1="640.0" y1="264.9" x2="640.0" y2="310.7" class="w"/>
<rect x="638.5" y="291.2" width="3.1" height="5.9" class="r"/>
<line x1="645.4" y1="297.1" x2="645.4" y2="331.2" class="w"/>
<rect x="643.9" y="298.1" width="3.1" height="23.4" class="r"/>
<line x1="651.1" y1="296.1" x2="651.1" y2="322.4" class="w"/>
<rect x="649.6" y="299.0" width="3.1" height="22.5" class="g"/>
<line x1="656.8" y1="287.3" x2="656.8" y2="306.1" class="w"/>
<rect x="655.2" y="294.2" width="3.1" height="5.6" class="g"/>
<line x1="662.0" y1="275.6" x2="662.0" y2="293.8" class="w"/>
<rect x="660.5" y="282.1" width="3.1" height="11.1" class="g"/>
<line x1="667.6" y1="278.9" x2="667.6" y2="296.4" class="w"/>
<rect x="666.1" y="283.4" width="3.1" height="2.6" class="r"/>
<line x1="673.2" y1="274.3" x2="673.2" y2="288.0" class="w"/>
<rect x="671.7" y="282.1" width="3.1" height="5.2" class="g"/>
<line x1="678.9" y1="281.5" x2="678.9" y2="299.7" class="w"/>
<rect x="677.4" y="282.1" width="3.1" height="13.7" class="r"/>
<line x1="684.5" y1="289.3" x2="684.5" y2="332.8" class="w"/>
<rect x="683.0" y="296.4" width="3.1" height="33.1" class="r"/>
<line x1="690.1" y1="308.1" x2="690.1" y2="331.0" class="w"/>
<rect x="688.6" y="321.1" width="3.1" height="9.7" class="g"/>
<line x1="695.6" y1="291.2" x2="695.6" y2="323.0" class="w"/>
<rect x="694.1" y="292.5" width="3.1" height="29.2" class="g"/>
<line x1="701.1" y1="288.4" x2="701.1" y2="297.5" class="w"/>
<rect x="699.6" y="291.8" width="3.1" height="1.2" class="d"/>
<line x1="706.6" y1="289.5" x2="706.6" y2="294.5" class="w"/>
<rect x="705.1" y="291.8" width="3.1" height="1.2" class="d"/>
<line x1="712.2" y1="287.7" x2="712.2" y2="296.2" class="w"/>
<rect x="710.7" y="290.3" width="3.1" height="1.2" class="d"/>
<line x1="718.1" y1="277.3" x2="718.1" y2="309.2" class="w"/>
<rect x="716.6" y="296.2" width="3.1" height="7.8" class="r"/>
<line x1="723.6" y1="304.0" x2="723.6" y2="317.9" class="w"/>
<rect x="722.1" y="304.6" width="3.1" height="2.6" class="r"/>
<line x1="729.1" y1="306.6" x2="729.1" y2="326.1" class="w"/>
<rect x="727.6" y="307.4" width="3.1" height="7.0" class="r"/>
<line x1="735.1" y1="313.7" x2="735.1" y2="338.8" class="w"/>
<rect x="733.6" y="315.1" width="3.1" height="15.8" class="r"/>
<line x1="15" y1="267" x2="801" y2="267" stroke="#4278ee" stroke-width="2"/>
<line x1="15" y1="375.6" x2="801" y2="375.6" stroke="#ff0b0b" stroke-width="3.2"/>
<line x1="15" y1="423" x2="801" y2="423" stroke="#ff0b0b" stroke-width="3.2"/>
<line x1="744" y1="313.6" x2="800" y2="313.6" stroke="#5a7cc8" stroke-width="1.6" stroke-dasharray="1.6 4.2"/>
<line x1="746" y1="334.4" x2="800" y2="334.4" stroke="#777" stroke-width="1.6" stroke-dasharray="1.6 4.2"/>
<circle cx="740.2" cy="333.8" r="2.1" fill="#6a4040"/>
<path d="M801,266.8 L811,255.0 L908.5,255.0 Q910.5,255.0 910.5,257.0 L910.5,276.6 Q910.5,278.6 908.5,278.6 L811,278.6 Z" fill="#1f60f0"/><text x="815" y="272.8" class="lbl" fill="#fff">4624</text>
<path d="M801,334.6 L811,322.8 L908.5,322.8 Q910.5,322.8 910.5,324.8 L910.5,344.4 Q910.5,346.4 908.5,346.4 L811,346.4 Z" fill="#353535"/><text x="815" y="340.6" class="lbl" fill="#fff">4600</text>
<path d="M801,375.3 L811,363.5 L908.5,363.5 Q910.5,363.5 910.5,365.5 L910.5,385.1 Q910.5,387.1 908.5,387.1 L811,387.1 Z" fill="#ff0000"/><text x="815" y="381.3" class="lbl" fill="#fff">4585</text>
<path d="M801,423.1 L811,411.3 L908.5,411.3 Q910.5,411.3 910.5,413.3 L910.5,432.9 Q910.5,434.9 908.5,434.9 L811,434.9 Z" fill="#ff0000"/><text x="815" y="429.1" class="lbl" fill="#fff">4568</text>
<!-- arrow -->
<line x1="747" y1="334" x2="787" y2="406.5" stroke="#2f5fa3" stroke-width="5.2"/>
<polygon points="796.3,423 776.5,411.8 795.6,400" fill="#2f5fa3"/>
<!-- separator -->
<rect x="0" y="439.5" width="915" height="2" fill="#e8ebef"/>
<rect x="913.6" y="54.5" width="1.4" height="561.5" fill="#f3f4f6"/>
<!-- RSI legend -->
<rect x="19.3" y="461.2" width="19.5" height="7" fill="#5b80e0"/>
<text x="49.3" y="470" class="lg" textLength="25.5" lengthAdjust="spacingAndGlyphs">RSI</text>
<rect x="95" y="461.2" width="19.6" height="7" fill="#ff0000"/>
<text x="125" y="470" class="lg" textLength="32" lengthAdjust="spacingAndGlyphs">9MA</text>
<!-- RSI grid -->
<line x1="15.5" y1="498.8" x2="800" y2="498.8" stroke="#b8b8b8" stroke-width="1.6" stroke-dasharray="1.6 4.8"/>
<line x1="15.5" y1="527.6" x2="800" y2="527.6" stroke="#b8b8b8" stroke-width="1.6" stroke-dasharray="1.6 4.8"/>
<line x1="15.5" y1="556.4" x2="800" y2="556.4" stroke="#b8b8b8" stroke-width="1.6" stroke-dasharray="1.6 4.8"/>
<text x="815" y="504.6" class="ax">70</text>
<text x="815" y="533.4" class="ax">50</text>
<text x="815" y="562.2" class="ax">30</text>
<path d="M19.6,537.4 C20.2,536.4 22.1,532.2 23.7,530.5 C25.3,528.8 28.5,526.1 30.5,525.9 C32.5,525.7 35.5,528.2 37.3,529.2 C39.1,530.2 41.1,531.8 42.8,532.5 C44.4,533.2 46.5,534.2 48.3,534.1 C50.1,534.0 53.3,532.4 55.1,531.9 C56.9,531.4 59.1,530.5 60.5,530.5 C61.9,530.5 63.2,530.7 64.6,531.9 C66.0,533.1 68.2,539.9 69.6,538.7 C71.0,537.5 72.5,527.2 74.2,523.7 C75.9,520.2 78.9,518.2 81.0,515.5 C83.1,512.8 85.4,509.1 87.9,506.0 C90.4,502.9 95.2,493.4 97.4,495.0 C99.7,496.6 101.2,514.2 102.9,516.9 C104.6,519.6 106.6,511.0 108.4,512.8 C110.2,514.6 113.0,528.2 114.6,529.2 C116.2,530.2 117.6,520.8 119.3,519.6 C121.0,518.4 124.3,518.8 126.1,521.0 C127.9,523.2 129.8,532.5 131.6,534.1 C133.4,535.7 136.6,532.6 138.4,531.9 C140.2,531.2 142.5,529.9 143.9,529.7 C145.3,529.5 146.6,530.8 148.0,530.5 C149.4,530.2 151.6,527.4 153.4,527.8 C155.2,528.2 158.5,532.1 160.3,533.3 C162.1,534.5 163.7,535.4 165.7,535.5 C167.7,535.6 171.4,534.2 173.9,534.1 C176.4,534.0 180.0,535.8 182.1,534.6 C184.2,533.4 185.9,527.8 187.6,526.4 C189.2,525.0 191.5,526.5 193.1,525.1 C194.7,523.7 196.9,517.9 198.5,516.9 C200.1,515.9 201.9,519.1 204.0,518.3 C206.1,517.5 210.1,512.8 212.2,511.4 C214.3,510.0 215.7,509.2 217.7,508.7 C219.7,508.2 223.7,507.4 225.8,508.1 C227.9,508.8 230.1,513.8 231.9,513.3 C233.7,512.8 236.3,505.9 238.1,505.1 C239.9,504.3 241.9,507.8 243.6,507.9 C245.2,508.0 247.5,506.8 249.1,506.0 C250.7,505.2 252.4,500.9 254.1,502.4 C255.8,503.9 258.6,515.2 260.4,516.1 C262.2,517.0 264.3,510.1 266.4,508.7 C268.5,507.3 272.5,506.6 274.6,506.8 C276.7,507.0 278.0,508.1 280.1,510.1 C282.2,512.1 285.9,520.2 288.3,520.4 C290.7,520.6 294.0,511.6 296.4,511.4 C298.8,511.2 302.5,518.3 304.6,518.8 C306.7,519.3 308.5,515.1 310.1,515.0 C311.8,514.9 314.0,517.9 315.6,518.3 C317.2,518.7 319.2,517.1 321.0,517.7 C322.8,518.3 325.8,522.6 327.9,522.3 C330.0,522.0 332.2,515.7 334.7,515.5 C337.2,515.3 341.8,520.7 344.3,521.0 C346.8,521.3 349.5,517.9 351.1,517.7 C352.7,517.5 353.8,516.9 355.2,519.6 C356.6,522.3 359.1,533.8 360.7,536.0 C362.3,538.2 364.5,534.0 366.1,534.1 C367.7,534.2 370.0,537.0 371.6,536.6 C373.2,536.2 374.5,530.9 377.0,531.4 C379.5,531.9 385.3,539.1 388.0,539.6 C390.7,540.1 393.0,537.2 394.8,534.6 C396.6,532.0 398.7,525.0 400.3,522.3 C401.9,519.6 404.1,517.1 405.7,516.3 C407.3,515.5 409.7,517.4 411.2,516.9 C412.7,516.4 414.2,512.3 415.8,512.8 C417.4,513.3 420.3,519.1 422.1,520.4 C423.9,521.7 426.0,520.0 427.6,521.5 C429.2,523.0 431.5,529.6 433.1,530.5 C434.7,531.4 436.8,528.1 438.5,527.8 C440.2,527.5 442.7,526.1 444.5,528.6 C446.3,531.1 448.3,543.1 450.3,544.2 C452.3,545.3 455.4,537.2 457.7,536.0 C460.0,534.8 463.6,534.6 465.8,536.0 C468.1,537.4 471.1,544.2 472.7,545.6 C474.3,547.0 475.4,546.3 476.8,545.0 C478.2,543.7 480.6,537.6 482.2,536.8 C483.8,536.0 485.9,537.4 487.7,539.6 C489.5,541.8 492.3,550.5 494.3,551.3 C496.3,552.1 498.7,546.1 500.9,545.0 C503.1,543.9 506.8,544.0 509.1,544.2 C511.4,544.4 513.9,546.9 516.0,546.1 C518.1,545.3 520.5,541.4 522.8,538.7 C525.0,536.0 528.8,529.7 531.0,527.8 C533.2,525.9 535.5,524.7 537.8,525.9 C540.0,527.1 543.8,534.4 546.0,535.5 C548.2,536.6 550.7,534.2 552.8,533.3 C554.9,532.4 558.1,529.6 559.7,529.2 C561.4,528.8 562.4,531.4 563.8,530.5 C565.2,529.6 567.0,525.4 569.2,523.2 C571.5,521.0 576.3,517.0 578.8,516.1 C581.3,515.2 583.8,517.2 585.6,517.2 C587.4,517.2 589.0,515.7 591.1,516.3 C593.2,516.9 597.0,519.0 599.3,521.5 C601.5,524.0 604.2,529.4 606.1,533.3 C608.0,537.2 610.3,548.4 612.1,547.8 C613.9,547.2 616.2,532.9 618.4,529.2 C620.6,525.5 624.4,524.4 626.6,523.2 C628.9,522.0 631.3,521.4 633.4,521.5 C635.5,521.6 638.5,522.4 640.3,523.7 C642.1,525.1 643.9,530.4 645.7,530.5 C647.5,530.6 650.1,526.0 652.6,524.3 C655.1,522.6 659.6,519.7 662.1,519.1 C664.6,518.5 667.4,520.3 669.0,520.4 C670.6,520.5 671.7,518.5 673.1,519.6 C674.5,520.7 676.8,525.2 678.5,527.8 C680.2,530.4 682.6,535.9 684.3,536.7 C686.0,537.5 688.3,535.1 690.0,533.2 C691.7,531.3 693.7,525.7 695.7,524.3 C697.7,522.9 701.2,524.0 703.6,523.7 C706.0,523.4 709.4,521.9 711.5,522.3 C713.6,522.7 715.3,525.1 717.4,526.3 C719.5,527.5 722.9,528.6 725.3,530.2 C727.7,531.8 731.0,535.5 733.1,537.1 C735.2,538.7 738.1,540.1 739.0,540.6" fill="none" stroke="#7b96ec" stroke-width="1.2"/>
<path d="M19.6,530.5 C22.1,530.5 26.2,529.9 31.9,530.5 C37.6,531.1 41.8,533.1 48.3,533.3 C54.8,533.5 59.1,532.0 64.6,531.4 C70.1,530.8 71.2,531.5 75.6,530.5 C80.0,529.5 82.1,528.6 86.5,526.4 C90.9,524.2 93.0,521.8 97.4,519.6 C101.8,517.4 103.5,516.9 108.4,515.5 C113.3,514.1 117.1,512.5 122.0,512.8 C126.9,513.1 128.1,514.4 133.0,516.9 C137.9,519.4 141.1,522.6 146.6,525.1 C152.1,527.6 153.7,527.7 160.3,529.2 C166.9,530.7 171.2,532.5 179.4,532.5 C187.6,532.5 193.6,531.2 201.3,529.2 C209.0,527.2 211.2,525.0 217.7,522.3 C224.2,519.6 228.0,517.8 234.0,515.5 C240.0,513.2 243.0,512.1 247.7,510.6 C252.4,509.1 254.1,508.6 257.3,508.1 C260.5,507.6 259.1,508.1 263.7,508.1 C268.3,508.1 273.6,507.2 280.1,507.9 C286.6,508.6 289.9,510.3 296.4,511.4 C302.9,512.5 306.2,512.5 312.8,513.6 C319.4,514.7 321.0,516.0 329.2,516.9 C337.4,517.8 345.6,516.9 353.8,518.3 C362.0,519.7 364.2,521.5 370.2,523.7 C376.2,525.9 378.2,527.4 383.9,529.2 C389.6,531.0 392.9,533.0 398.9,532.7 C404.9,532.4 408.2,529.6 413.9,527.8 C419.6,526.0 421.6,524.8 427.6,523.7 C433.6,522.6 438.0,521.6 444.0,522.3 C450.0,523.0 452.2,524.8 457.7,527.0 C463.2,529.2 465.8,531.1 471.3,533.3 C476.8,535.5 481.3,537.1 485.0,538.2 C488.7,539.3 486.3,537.9 490.0,538.7 C493.7,539.5 498.2,541.0 503.7,542.3 C509.2,543.6 511.8,545.3 517.3,545.0 C522.8,544.7 525.5,542.3 531.0,540.7 C536.5,539.1 539.1,538.3 544.6,536.8 C550.1,535.3 552.8,535.1 558.3,533.3 C563.8,531.5 566.5,529.4 572.0,527.8 C577.5,526.2 580.1,526.2 585.6,525.1 C591.1,524.0 593.8,522.4 599.3,522.3 C604.8,522.2 607.5,523.7 613.0,524.5 C618.5,525.3 621.1,525.6 626.6,526.4 C632.1,527.2 635.9,527.9 640.3,528.6 C644.7,529.3 644.7,530.5 648.5,530.0 C652.3,529.5 654.5,527.3 659.4,525.9 C664.3,524.5 667.6,523.4 673.1,523.2 C678.6,523.0 681.8,524.9 686.7,525.1 C691.6,525.3 692.7,524.3 697.7,524.3 C702.7,524.3 707.2,524.5 711.5,525.0 C715.8,525.5 715.9,526.3 719.4,526.9 C722.9,527.5 725.1,527.7 729.2,528.2 C733.3,528.7 737.8,529.3 740.0,529.6" fill="none" stroke="#f34040" stroke-width="1.5"/>
<line x1="744" y1="540.6" x2="800" y2="540.6" stroke="#7b96ec" stroke-width="1.6" stroke-dasharray="1.6 4.2"/>
<!-- x axis -->
<path d="M15.5,583 L15.5,574.5 L770,574.5" fill="none" stroke="#ababab" stroke-width="2"/>
<text x="161" y="601" class="ax">Jan 14</text>
<text x="424" y="601" class="ax">Jan 15</text>
<text x="692.5" y="600" class="ax">Jan 16</text>
<!-- watermark -->
<g font-family="Liberation Sans, Noto Sans CJK SC, sans-serif" font-size="21.5" fill="#fff" stroke="none">
<text x="0" y="0" fill="#3a3a3a" transform="translate(617.4,585.1) scale(1,1.09)">@KVB</text>
<text x="0" y="0" transform="translate(618.3,584.2) scale(1,1.09)">@KVB</text>
<text x="682.3" y="585.1" fill="#3a3a3a">亚太区域服务顾问-吴文</text>
<text x="683.2" y="584.2">亚太区域服务顾问-吴文</text>
</g>
<g fill="none" stroke-width="1.1" stroke-linecap="round">
<g stroke="#3a3a3a" transform="translate(-0.7,0.7)">
<path d="M596.5,566 L607.3,566 C611,567 612.3,571 612.2,576 C612,581 610,585 606.8,586.4 L601.4,589.5"/>
<path d="M605,569.1 C601.5,569.5 599.6,572 599.1,576 L597.8,586"/>
<path d="M596.4,576.5 L596,578"/>
</g>
<g stroke="#fff">
<path d="M596.5,566 L607.3,566 C611,567 612.3,571 612.2,576 C612,581 610,585 606.8,586.4 L601.4,589.5"/>
<path d="M605,569.1 C601.5,569.5 599.6,572 599.1,576 L597.8,586"/>
</g>
</g>
</svg>
</body></html>
